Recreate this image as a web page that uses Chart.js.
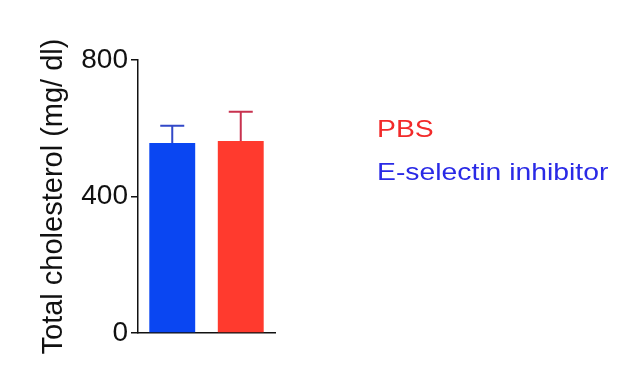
<!DOCTYPE html>
<html>
<head>
<meta charset="utf-8">
<script src="https://cdn.jsdelivr.net/npm/chart.js@4"></script>
<style>
  html, body { margin: 0; padding: 0; background: #fff; }
  #wrap { position: relative; width: 619px; height: 372px; }
  .lg {
    position: absolute;
    left: 377px;
    font-family: "Liberation Sans", Arial, sans-serif;
    font-size: 24px;
    line-height: 24px;
    white-space: nowrap;
    transform: scaleX(1.18);
    transform-origin: left center;
  }
</style>
</head>
<body>
<div id="wrap">
  <canvas id="chart" width="619" height="372"></canvas>
  <div class="lg" style="top:117px;color:#f22a2a;">PBS</div>
  <div class="lg" style="top:160px;color:#2a2ae6;">E-selectin inhibitor</div>
</div>
<script>
// data
const groups = ["E-selectin inhibitor", "PBS"];
const means = [557, 563];
const sems = [50, 85];
const barColors = ["#0a46f2", "#ff3a2e"];
const errColors = ["#3248c8", "#c8324f"];
const yTicks = [0, 400, 800];

// simple error bar plugin (upper whisker only, like the figure)
const errorBars = {
  id: "errorBars",
  afterDatasetsDraw(chart) {
    const ctx = chart.ctx;
    const y = chart.scales.y;
    const meta = chart.getDatasetMeta(0);
    meta.data.forEach((bar, i) => {
      const top = y.getPixelForValue(means[i] + sems[i]);
      ctx.save();
      ctx.strokeStyle = errColors[i];
      ctx.lineWidth = 2;
      ctx.beginPath();
      ctx.moveTo(bar.x, bar.y);
      ctx.lineTo(bar.x, top);
      ctx.moveTo(bar.x - 12, top);
      ctx.lineTo(bar.x + 12, top);
      ctx.stroke();
      ctx.restore();
    });
  },
};

new Chart(document.getElementById("chart"), {
  type: "bar",
  data: {
    labels: groups,
    datasets: [
      {
        data: means,
        backgroundColor: barColors,
        borderWidth: 0,
        barPercentage: 0.67,
        categoryPercentage: 1,
      },
    ],
  },
  options: {
    responsive: false,
    animation: false,
    layout: { padding: { left: 33, top: 60, right: 344, bottom: 39 } },
    plugins: { legend: { display: false }, tooltip: { enabled: false } },
    scales: {
      x: {
        ticks: { display: false },
        grid: { display: false },
        border: { display: true, color: "#111", width: 1.5 },
        afterFit(scale) {
          scale.height = 0;
        },
      },
      y: {
        min: 0,
        max: 800,
        afterBuildTicks(scale) {
          scale.ticks = yTicks.map((v) => ({ value: v }));
        },
        ticks: {
          color: "#111",
          padding: 3,
          font: { family: "'Liberation Sans', Arial, sans-serif", size: 28 },
        },
        grid: {
          drawOnChartArea: false,
          drawTicks: true,
          tickLength: 7,
          color: "#111",
          lineWidth: 1.5,
        },
        border: { display: true, color: "#111", width: 1.5 },
        title: {
          display: true,
          text: "Total cholesterol (mg/ dl)",
          color: "#111",
          padding: { top: 4, bottom: 4 },
          font: { family: "'Liberation Sans', Arial, sans-serif", size: 29 },
        },
        afterFit(scale) {
          scale.width = 105;
        },
      },
    },
  },
  plugins: [errorBars],
});
</script>
</body>
</html>
